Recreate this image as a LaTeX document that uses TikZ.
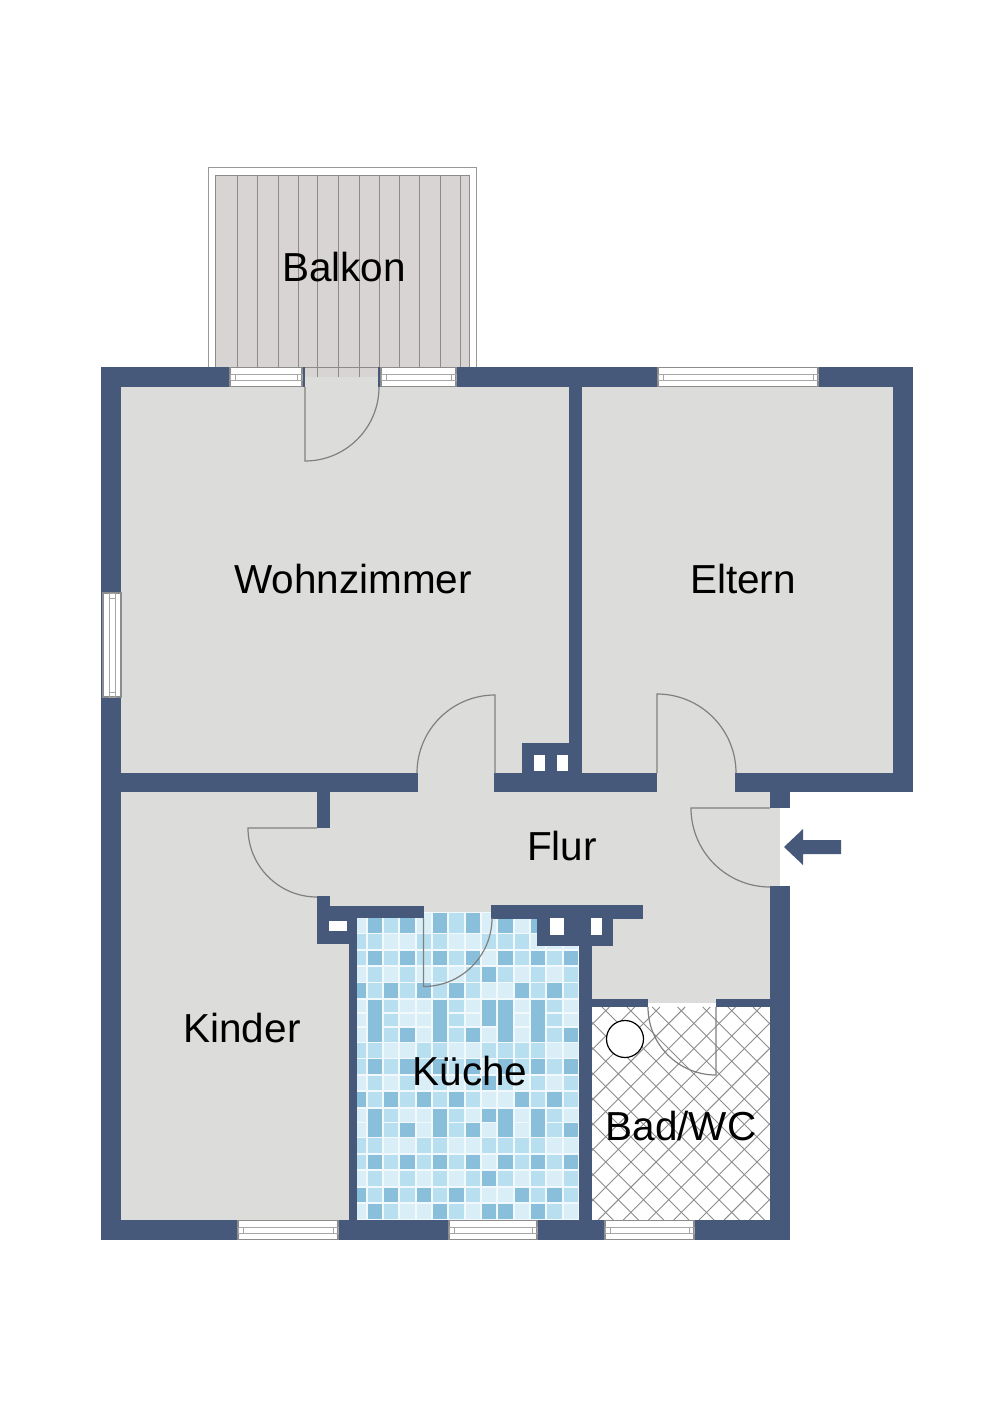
\documentclass[tikz,border=0pt]{standalone}
\usepackage{fontspec}
\setmainfont{Liberation Sans}
\definecolor{wall}{HTML}{47597B}
\definecolor{floorgrey}{HTML}{DCDCDA}
\definecolor{deck}{HTML}{D8D4D4}
\definecolor{plank}{HTML}{8F8A8A}
\definecolor{grout}{HTML}{F2F9FC}
\definecolor{tile0}{HTML}{D9EEF6}
\definecolor{tile1}{HTML}{B7DFEF}
\definecolor{tile2}{HTML}{8ABFDB}

\begin{document}
\begin{tikzpicture}[x=1pt,y=-1pt,
    room/.style={anchor=base,inner sep=0pt,font=\fontsize{40.5}{48}\selectfont},
    doorline/.style={draw=black!50,line width=1.2pt},
    windowbox/.style={draw=black!45,fill=white,line width=1.3pt},
    windowline/.style={draw=black!35,line width=0.9pt},
    hatchline/.style={draw=black!45,line width=0.9pt}]
    \useasboundingbox (0,0) rectangle (1000,1415);

    \draw[draw=black!40,fill=white,line width=1pt] (208,168) rectangle (476,367);
    \fill[deck] (215,175) rectangle (469,377);
    \draw[plank,line width=0.8pt] (215,175) rectangle (469,367);
    \foreach \xa in {237,257,278,298,317,338,359,379,399,419,440,460}
        \draw[plank,line width=1pt] (\xa,175) -- (\xa,377);

    \foreach \xa/\ya/\xb/\yb in {121/387/569/773,582/387/893/773,121/792/349/1220,
        330/792/770/912,592/912/770/1003,418/773/494/792,657/773/735/792,
        770/808/780/886,305/377/378/387,317/828/330/896}
        \fill[floorgrey] (\xa,\ya) rectangle (\xb,\yb);

    \fill[grout] (357,912) rectangle (579,1220);
    \begin{scope}
        \clip (357,912) rectangle (579,1220);
        \foreach \ya/\yb/\cells in {
            912/933.3/{0,2,1,2,0,2,1,2,0,2,0,2,1,2},
            933.3/949.7/{1,1,0,0,1,1,0,0,1,1,1,0,0,0},
            949.7/966/{1,2,1,2,1,2,1,2,0,2,1,2,1,2},
            966/982.3/{0,1,0,1,0,1,0,1,2,1,0,1,0,1},
            982.3/998.7/{2,1,2,1,2,1,2,1,0,0,2,1,2,1},
            998.7/1013/{0,2,1,0,0,2,1,0,2,2,0,2,1,0},
            1013/1026.7/{0,2,1,0,0,2,1,0,2,2,0,2,1,0},
            1026.7/1042.3/{0,2,1,2,0,2,1,2,0,2,0,2,1,2},
            1042.3/1058.3/{1,1,0,0,1,1,0,0,1,1,1,1,0,0},
            1058.3/1075/{1,2,1,2,1,2,1,2,0,2,1,2,1,2},
            1075/1091/{0,1,0,1,0,1,0,1,2,1,0,1,0,1},
            1091/1107.7/{2,1,2,1,2,1,2,1,0,0,2,1,2,1},
            1107.7/1122.3/{0,2,1,0,0,2,1,0,2,2,0,2,1,0},
            1122.3/1137.3/{0,2,1,2,0,2,1,2,0,2,0,2,1,2},
            1137.3/1153.7/{1,1,0,0,1,1,0,0,1,1,1,1,0,0},
            1153.7/1170/{1,2,1,2,1,2,1,2,0,2,1,2,1,2},
            1170/1186.7/{0,1,0,1,0,1,0,1,2,1,0,1,0,1},
            1186.7/1202.7/{2,1,2,1,2,1,2,1,0,0,2,1,2,1},
            1202.7/1219.3/{0,2,1,0,0,2,1,0,2,2,0,2,1,0}}
            \foreach \t [count=\c from 0] in \cells
                \fill[tile\t] (350.33+16.33*\c+0.9,\ya+0.8) rectangle (350.33+16.33*\c+15.5,\yb-0.8);
        \foreach \yy/\cols in {1013/{1,5,8,9,11},1026.7/{1,5,9,11},1122.3/{1,5,9,11}}
            \foreach \c in \cols
                \fill[tile2] (350.33+16.33*\c+0.9,\yy-1) rectangle (350.33+16.33*\c+15.5,\yy+1);
    \end{scope}

    \fill[white] (592,1003) rectangle (770,1220);
    \begin{scope}
        \clip (592,1003) rectangle (770,1220);
        \foreach \k in {-3,...,13}
            \draw[hatchline] (450.7+25.2*\k,1007) -- (663.7+25.2*\k,1220);
        \foreach \k in {-7,...,9}
            \draw[hatchline] (760.7+25.2*\k,1007) -- (547.7+25.2*\k,1220);
    \end{scope}

    \foreach \xa/\ya/\xb/\yb in {101/367/305/387,378/367/913/387,101/367/121/1240,893/367/913/792,
        569/387/582/773,522/743/582/773,101/773/418/792,494/773/657/792,735/773/913/792,
        317/792/330/828,770/792/790/808,770/886/790/1240,
        317/896/330/944,317/906/424/918,317/918/357/944,349/944/357/1240,
        491/905/643/919,537/919/613/946,579/946/592/1240,
        592/999/648/1007,716/999/770/1007,101/1220/790/1240}
        \fill[wall] (\xa,\ya) rectangle (\xb,\yb);

    \foreach \xa/\ya/\xb/\yb in {534/755/545/771,557/755/568/771,329/921/347/931,
        550/918/564/935,591/918/602/935}
        \fill[white] (\xa,\ya) rectangle (\xb,\yb);

    \foreach \xa/\xb/\ya in {230/302/367,381/456/367,658/818/367,
        238/338/1220,449/537/1220,605/694/1220} {
        \draw[windowbox] (\xa,\ya+0.5) rectangle (\xb,\ya+19.5);
        \draw[windowline] (\xa,\ya+7) rectangle (\xb,\ya+13);
        \draw[windowline] (\xa+5,\ya+7) -- (\xa+5,\ya+13) (\xb-5,\ya+7) -- (\xb-5,\ya+13);
    }
    \draw[windowbox] (103,593) rectangle (121,697);
    \draw[windowline] (109,593) rectangle (115,697);
    \draw[windowline] (109,598) -- (115,598) (109,692) -- (115,692);

    \foreach \cx/\cy/\sa/\ea/\rr in {305/387/90/0/74,495/773/270/180/78,657/773/-90/0/79,
        770/808/180/90/79,317/828/180/90/69,423.5/918/90/0/68.5,716/1007/90/180/68}
        \draw[doorline] (\cx,\cy) -- ++(\sa:\rr) arc[start angle=\sa,end angle=\ea,radius=\rr];

    \draw[black,fill=white,line width=1.2pt] (625,1039) circle[radius=18.5];
    \fill[wall] (784,847) -- (803,829) -- (803,840) -- (841,840) -- (841,854)
        -- (803,854) -- (803,865) -- cycle;

    \node[room] (balkon) at (344,281.5) {Balkon};
    \node[room] (wohnzimmer) at (353,593) {Wohnzimmer};
    \node[room] (eltern) at (743,593) {Eltern};
    \node[room] (flur) at (562,860) {Flur};
    \node[room] (kinder) at (242,1042) {Kinder};
    \node[room] (kueche) at (470,1085) {Küche};
    \node[room] (bad) at (681,1140) {Bad/WC};
\end{tikzpicture}
\end{document}
